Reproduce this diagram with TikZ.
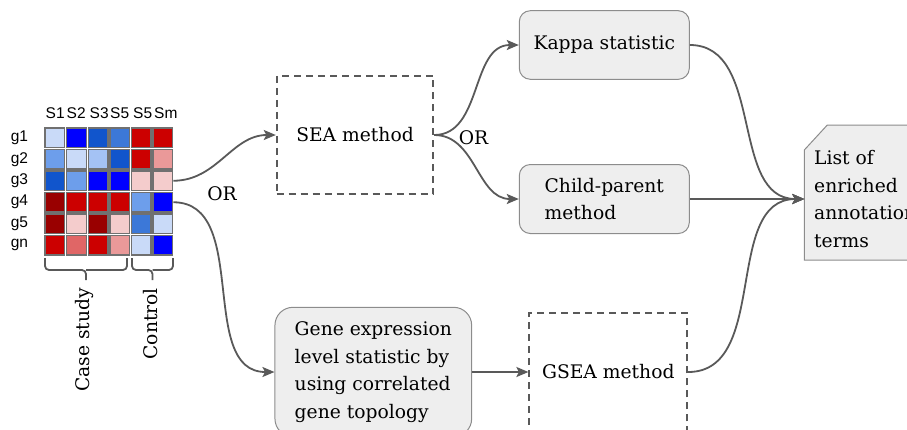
\documentclass[tikz,border=0pt]{standalone}
\usepackage{fontspec}
\setmainfont{DejaVu Serif}
\newfontfamily\labfont{Liberation Sans}
\usetikzlibrary{arrows.meta}
\definecolor{cA}{HTML}{C9DAF8}
\definecolor{cB}{HTML}{0000FF}
\definecolor{cC}{HTML}{1155CC}
\definecolor{cD}{HTML}{3C78D8}
\definecolor{cE}{HTML}{6D9EEB}
\definecolor{cF}{HTML}{A4C2F4}
\definecolor{rA}{HTML}{CC0000}
\definecolor{rB}{HTML}{990000}
\definecolor{rC}{HTML}{F4CCCC}
\definecolor{rD}{HTML}{EA9999}
\definecolor{rE}{HTML}{E06666}
\definecolor{lineg}{HTML}{595959}
\definecolor{boxfill}{HTML}{EEEEEE}
\definecolor{boxline}{HTML}{8C8C8C}
\definecolor{cellline}{HTML}{707070}
\begin{document}
\begin{tikzpicture}[x=1pt,y=-1pt,
  txt/.style={font=\fontsize{18.7}{27.6}\selectfont, inner sep=0pt},
  cell/.style={minimum size=19.6pt, inner sep=0pt, draw=cellline, line width=1.4pt},
  lab/.style={font=\labfont\fontsize{15.5}{17}\selectfont, inner sep=0pt},
  dashbox/.style={draw=lineg, line width=1.8pt, dash pattern=on 7pt off 5pt, txt},
  roundbox/.style={draw=boxline, fill=boxfill, line width=1pt, rounded corners=11pt, txt},
  conn/.style={draw=lineg, line width=1.8pt, -{Stealth[length=12pt,width=10pt,inset=2.5pt]}},
  bracepath/.style={draw=lineg, line width=1.8pt, rounded corners=4pt}
]
\useasboundingbox (0,0) rectangle (907,429);

% heat map
\foreach \row [count=\r] in {{cA,cB,cC,cD,rA,rA},{cE,cA,cF,cC,rA,rD},{cC,cE,cB,cB,rC,rC},{rB,rA,rA,rA,cE,cB},{rB,rC,rB,rC,cD,cA},{rA,rE,rA,rD,cA,cB}}{
  \foreach \col [count=\c] in \row {
    \node[cell, fill=\col] (c-\r-\c) at ({54.8+21.6*(\c-1)}, {137.75+21.5*(\r-1)}) {};
  }
}
\foreach \t/\xx [count=\c] in {S1/45.5,S2/66.5,S3/89.5,S5/110,S5/133,Sm/154}
  \node[lab, anchor=west] (col-\c) at (\xx, 113) {\t};
\foreach \t [count=\r] in {g1,g2,g3,g4,g5,gn}
  \node[lab] (row-\r) at (19.5, {137.75+21.5*(\r-1)}) {\t};

% braces
\draw[bracepath] (45,258) |- (86,270) -- (86,280);
\draw[bracepath] (127,258) |- (86,270);
\draw[bracepath] (132,258) |- (152.5,270) -- (152.5,280);
\draw[bracepath] (173,258) |- (152.5,270);
\node[txt, rotate=90, anchor=east] (case) at (84,288) {Case study};
\node[txt, rotate=90, anchor=east] (ctrl) at (151,288) {Control};

% boxes
\node[dashbox, minimum width=156.6pt, minimum height=118.6pt] (sea) at (355,135) {SEA method};
\node[roundbox, minimum width=170pt, minimum height=68.6pt] (kappa) at (604.3,45) {Kappa statistic};
\node[roundbox, minimum width=170pt, minimum height=69pt, align=left] (child) at (604.3,199) {Child-parent\\method};
\node[roundbox, rounded corners=18pt, minimum width=196.7pt, minimum height=129.4pt, align=left] (gene) at (373.3,372) {Gene expression\\level statistic by\\using correlated\\gene topology};
\node[dashbox, minimum width=158pt, minimum height=118.6pt] (gsea) at (608.3,372) {GSEA method};

% list box
\draw[draw=boxline, fill=boxfill, line width=1pt] (804.3,150) -- (827.3,125) -- (915,125) -- (915,260) -- (804.3,260) -- cycle;
\node[txt, align=left, anchor=west] (list) at (814,199) {List of\\enriched\\annotation\\terms};
\coordinate (listin) at (804.3,199);

% OR labels
\node[txt] (or1) at (222,194) {OR};
\node[txt] (or2) at (473.5,138) {OR};

% connectors
\draw[conn] (c-3-6.east) to[out=0,in=180] (sea.west);
\draw[conn] (c-4-6.east) to[out=0,in=180] (gene.west);
\draw[conn] (sea.east) to[out=0,in=180] (kappa.west);
\draw[conn] (sea.east) to[out=0,in=180] (child.west);
\draw[conn] (gene.east) -- (gsea.west);
\draw[conn] (kappa.east) to[out=0,in=180] (listin);
\draw[conn] (child.east) -- (listin);
\draw[conn] (gsea.east) to[out=0,in=180] (listin);
\end{tikzpicture}
\end{document}
